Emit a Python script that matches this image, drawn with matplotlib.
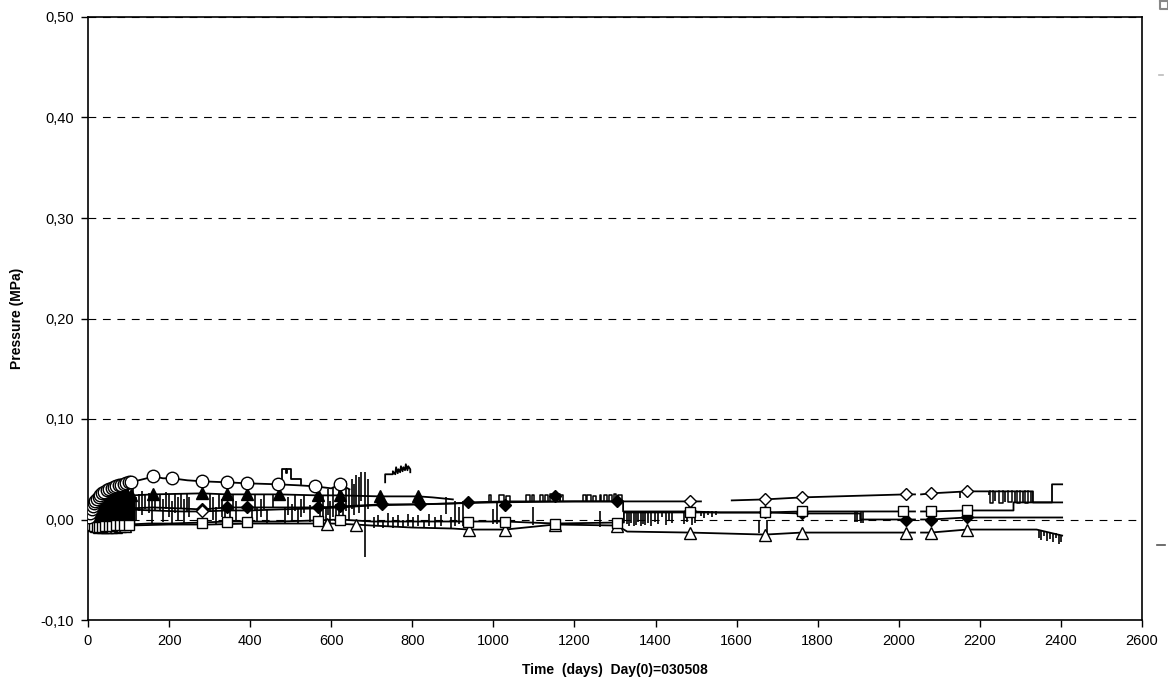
import numpy as np
import matplotlib
matplotlib.use("Agg")
import matplotlib.pyplot as plt
from matplotlib.lines import Line2D
from matplotlib.ticker import FuncFormatter, MultipleLocator

plt.rcParams['font.family'] = ['Liberation Sans', 'DejaVu Sans']
nan = np.nan

# open circles
circ_days = [0, 5, 10, 18, 28, 40, 52, 62, 72, 82, 92, 104, 125, 145, 160, 185, 207, 245, 281, 343,
             392, 469, 520, 560, 600, 622, 645]
circ_vals = [0.000, 0.006, 0.012, 0.018, 0.023, 0.027, 0.030, 0.032, 0.033, 0.034, 0.036, 0.037, 0.039, 0.041, 0.043, 0.041, 0.041, 0.039, 0.038, 0.037,
             0.036, 0.035, 0.034, 0.033, 0.031, 0.035, 0.030]
circ_mk_days = [3, 6, 9, 12, 15, 18, 22, 26, 30, 35, 40, 46, 52, 58, 64, 70, 76, 82, 88, 94,
                100, 106, 160, 207, 281, 343, 392, 469, 560, 622]
circ_mk_vals = [0.002, 0.006, 0.010, 0.013, 0.016, 0.018, 0.020, 0.022, 0.024, 0.026, 0.027, 0.029, 0.030, 0.031, 0.032, 0.033, 0.034, 0.034, 0.035, 0.036,
                0.037, 0.037, 0.043, 0.041, 0.038, 0.037, 0.036, 0.035, 0.033, 0.035]

# filled triangles
tri_days = [0, 10, 20, 35, 50, 70, 90, 110, 160, 281, 343, 392, 470, 567, 622, 720, 815, 850, 900]
tri_vals = [0.000, 0.008, 0.012, 0.016, 0.019, 0.021, 0.023, 0.024, 0.025, 0.026, 0.025, 0.025, 0.025, 0.024, 0.024, 0.023, 0.023, 0.022, 0.020]
tri_mk_days = [5, 10, 15, 20, 26, 32, 38, 45, 52, 60, 68, 76, 85, 95, 105, 160, 281, 343, 392, 470,
               567, 622, 720, 815]
tri_mk_vals = [0.004, 0.008, 0.010, 0.012, 0.014, 0.016, 0.017, 0.018, 0.019, 0.020, 0.021, 0.022, 0.023, 0.023, 0.024, 0.025, 0.026, 0.025, 0.025, 0.025,
               0.024, 0.024, 0.023, 0.023]

# filled diamonds
diaf_days = [0, 15, 30, 50, 70, 100, 160, 230, 281, 343, 392, 470, 567, 622, 725, 819, 900, 937, 1029, 1152,
             1305, 1320, 1320, 1400, 1485, 1560, 1670, 1761, 1850, 1905, 1905, 2018, 2040, 2048, 2055, 2079, 2168, 2250, 2403]
diaf_vals = [0.000, 0.004, 0.007, 0.009, 0.010, 0.011, 0.012, 0.011, 0.010, 0.012, 0.012, 0.012, 0.012, 0.013, 0.015, 0.015, 0.016, 0.017, 0.018, 0.018,
             0.018, 0.018, 0.008, 0.008, 0.008, 0.007, 0.007, 0.006, 0.006, 0.006, 0.000, 0.000, 0.000, nan, 0.000, 0.000, 0.002, 0.002, 0.002]
diaf_mk_days = [8, 15, 22, 30, 38, 46, 55, 64, 73, 82, 92, 102, 281, 343, 392, 567, 622, 725, 819, 937,
                1029, 1152, 1305, 1485, 1670, 1761, 2018, 2079, 2168]
diaf_mk_vals = [0.002, 0.004, 0.006, 0.007, 0.008, 0.009, 0.009, 0.010, 0.010, 0.010, 0.011, 0.011, 0.010, 0.012, 0.012, 0.012, 0.013, 0.015, 0.015, 0.017,
                0.014, 0.023, 0.018, 0.008, 0.007, 0.006, 0.000, 0.000, 0.002]

# open diamonds
diao_days = [0, 10, 25, 45, 70, 100, 160, 230, 281, 343, 400, 470, 560, 622, 700, 800, 900, 1000, 1200, 1320,
             1485, 1512, 1550, 1588, 1670, 1761, 2018, 2040, 2048, 2055, 2079, 2168, 2220, 2331, 2331, 2378, 2378, 2403]
diao_vals = [0.000, 0.004, 0.007, 0.009, 0.010, 0.010, 0.009, 0.008, 0.008, 0.009, 0.009, 0.010, 0.011, 0.012, 0.014, 0.015, 0.016, 0.017, 0.018, 0.018,
             0.018, 0.018, nan, 0.019, 0.020, 0.022, 0.025, 0.025, nan, 0.025, 0.026, 0.028, 0.028, 0.028, 0.017, 0.017, 0.035, 0.035]
diao_mk_days = [6, 14, 24, 34, 45, 57, 70, 84, 98, 281, 1485, 1670, 1761, 2018, 2079, 2168]
diao_mk_vals = [0.003, 0.005, 0.007, 0.008, 0.009, 0.010, 0.010, 0.010, 0.010, 0.008, 0.018, 0.020, 0.022, 0.025, 0.026, 0.028]

# open squares
sq_days = [0, 5, 12, 25, 40, 60, 80, 100, 150, 200, 281, 343, 400, 470, 560, 622, 700, 800, 900, 937,
           1029, 1152, 1305, 1322, 1322, 1485, 1670, 1761, 1890, 2011, 2040, 2048, 2055, 2079, 2168, 2283, 2283, 2403]
sq_vals = [0.000, -0.004, -0.006, -0.007, -0.006, -0.006, -0.005, -0.005, -0.004, -0.004, -0.003, -0.002, -0.002, -0.002, -0.001, 0.000, -0.002, -0.002, -0.002, -0.002,
           -0.002, -0.004, -0.003, -0.003, 0.007, 0.007, 0.007, 0.008, 0.008, 0.008, 0.008, nan, 0.008, 0.008, 0.009, 0.009, 0.017, 0.017]
sq_mk_days = [4, 9, 15, 21, 28, 35, 43, 51, 60, 70, 80, 90, 100, 281, 343, 392, 567, 622, 937, 1029,
              1152, 1305, 1485, 1670, 1761, 2011, 2079, 2168]
sq_mk_vals = [-0.002, -0.005, -0.006, -0.007, -0.007, -0.007, -0.006, -0.006, -0.006, -0.005, -0.005, -0.005, -0.005, -0.003, -0.002, -0.002, -0.001, 0.000, -0.002, -0.002,
              -0.004, -0.003, 0.007, 0.007, 0.008, 0.008, 0.008, 0.009]

# open triangles
trio_days = [0, 8, 20, 40, 70, 100, 200, 300, 400, 500, 600, 660, 700, 800, 900, 940, 1029, 1152, 1305, 1330,
             1485, 1670, 1761, 2018, 2040, 2048, 2055, 2079, 2168, 2340, 2403]
trio_vals = [0.000, -0.004, -0.006, -0.007, -0.007, -0.006, -0.005, -0.005, -0.004, -0.004, -0.004, -0.005, -0.006, -0.008, -0.009, -0.010, -0.010, -0.005, -0.006, -0.012,
             -0.013, -0.015, -0.013, -0.013, -0.013, nan, -0.013, -0.013, -0.010, -0.010, -0.016]
trio_mk_days = [6, 12, 19, 27, 36, 46, 57, 68, 80, 92, 589, 660, 940, 1029, 1152, 1305, 1485, 1670, 1761, 2018,
                2079, 2168]
trio_mk_vals = [-0.003, -0.005, -0.006, -0.007, -0.007, -0.007, -0.007, -0.007, -0.006, -0.006, -0.004, -0.005, -0.010, -0.010, -0.005, -0.006, -0.013, -0.015, -0.013, -0.013,
                -0.013, -0.010]

# short high excursions without markers
hi1_days = [478, 478, 488, 488, 492, 492, 500, 500, 525, 525]
hi1_vals = [0.036, 0.050, 0.050, 0.046, 0.046, 0.050, 0.050, 0.040, 0.040, 0.035]
hi2_days = [733, 733, 752, 752, 758, 760, 764, 766, 770, 772, 776, 778, 782, 784, 788, 790, 795, 795]
hi2_vals = [0.037, 0.045, 0.045, 0.048, 0.045, 0.052, 0.046, 0.050, 0.047, 0.053, 0.048, 0.052, 0.049, 0.055, 0.049, 0.053, 0.050, 0.047]

# dense readings of the first days (day, low, high)
early_days = [2, 5, 8, 11, 14, 17, 20, 23, 26, 29, 32, 35, 38, 41, 44, 47, 50, 53, 56, 59,
              62, 65, 68, 71, 74, 77, 80, 83, 86, 89, 92, 95, 98, 101, 104, 107, 110]
early_lo = [-0.004, -0.006, -0.007, -0.007, -0.008, -0.007, -0.008, -0.007, -0.008, -0.007, -0.008, -0.007, -0.008, -0.007, -0.008, -0.007, -0.008, -0.007, -0.008, -0.007,
            -0.008, -0.007, -0.008, -0.007, -0.008, -0.007, -0.008, -0.007, -0.006, -0.007, -0.006, -0.005, -0.006, -0.004, -0.005, -0.003, -0.004]
early_hi = [0.004, 0.008, 0.011, 0.014, 0.016, 0.018, 0.020, 0.021, 0.022, 0.024, 0.025, 0.026, 0.027, 0.027, 0.028, 0.029, 0.029, 0.030, 0.030, 0.031,
            0.031, 0.032, 0.032, 0.032, 0.033, 0.033, 0.033, 0.034, 0.033, 0.034, 0.034, 0.030, 0.028, 0.026, 0.024, 0.022, 0.020]

# single-reading spikes (day, low, high)
spk_days = [105, 112, 118, 126, 133, 141, 150, 158, 166, 178, 186, 193, 200, 207, 215, 222, 229, 236, 243, 250,
            300, 308, 316, 322, 330, 338, 350, 357, 365, 405, 411, 418, 426, 433, 441, 456, 486, 494, 502, 510,
            518, 526, 534, 548, 572, 580, 586, 592, 598, 605, 612, 620, 628, 636, 644, 650, 656, 662, 668, 674,
            683, 690, 705, 716, 728, 740, 752, 765, 778, 790, 802, 815, 828, 842, 856, 870, 882, 895, 905, 915,
            925, 1000, 1010, 1098, 1262, 1655, 1676,
            1330, 1335, 1340, 1346, 1352, 1357, 1363, 1368, 1375, 1382, 1390, 1398, 1405, 1415, 1425, 1432, 1440,
            1470, 1478, 1490, 1497, 1512, 1520, 1530, 1540, 1550, 1893, 1897, 1907, 1911,
            2150, 2222, 2238, 2262, 2286, 2306, 2325,
            2345, 2352, 2358, 2365, 2372, 2380, 2388, 2395, 2400]
spk_lo = [0.002, 0.005, 0.000, 0.008, 0.004, 0.010, 0.006, -0.004, 0.008, 0.008, -0.002, 0.010, 0.002, -0.004, 0.006, 0.000, 0.010, -0.003, 0.008, 0.002,
          0.008, 0.000, -0.004, 0.010, 0.002, -0.002, -0.004, 0.008, 0.000, -0.003, 0.008, -0.002, 0.002, 0.010, -0.004, 0.012, -0.004, 0.004, -0.002, 0.008,
          -0.004, 0.002, 0.006, -0.002, -0.006, 0.000, -0.008, 0.004, -0.004, 0.002, -0.006, 0.004, -0.002, 0.008, 0.000, 0.010, 0.004, 0.014, 0.006, 0.018,
          -0.037, 0.010, -0.008, -0.006, -0.008, -0.006, -0.008, -0.007, -0.008, -0.006, -0.008, -0.006, -0.008, -0.006, -0.008, -0.006, 0.005, -0.008, -0.006, -0.004,
          -0.006, -0.004, -0.004, -0.005, -0.007, -0.013, -0.017,
          -0.004, -0.006, -0.003, -0.006, -0.005, -0.002, -0.006, -0.004, -0.005, -0.003, -0.006, -0.002, -0.004, 0.002, -0.005, -0.001, -0.003,
          -0.004, -0.002, -0.005, -0.003, 0.003, 0.001, 0.004, 0.002, 0.004, -0.002, -0.002, -0.003, -0.003,
          0.021, 0.024, 0.018, 0.017, 0.017, 0.017, 0.017,
          -0.018, -0.020, -0.016, -0.021, -0.019, -0.022, -0.018, -0.024, -0.022]
spk_hi = [0.024, 0.030, 0.022, 0.025, 0.028, 0.025, 0.026, 0.020, 0.025, 0.025, 0.020, 0.027, 0.025, 0.018, 0.025, 0.022, 0.025, 0.020, 0.026, 0.022,
          0.025, 0.022, 0.012, 0.025, 0.020, 0.012, 0.010, 0.025, 0.018, 0.010, 0.025, 0.012, 0.020, 0.025, 0.010, 0.025, 0.012, 0.022, 0.015, 0.024,
          0.010, 0.020, 0.024, 0.014, 0.020, 0.024, 0.012, 0.030, 0.018, 0.032, 0.015, 0.035, 0.025, 0.038, 0.030, 0.040, 0.035, 0.044, 0.042, 0.047,
          0.047, 0.040, 0.002, 0.004, 0.000, 0.006, 0.002, 0.004, 0.000, 0.005, 0.002, 0.004, 0.000, 0.005, 0.002, 0.004, 0.022, 0.002, 0.018, 0.012,
          0.018, 0.010, 0.017, 0.012, 0.008, 0.000, 0.000,
          0.008, 0.008, 0.008, 0.008, 0.008, 0.008, 0.008, 0.008, 0.008, 0.008, 0.008, 0.008, 0.008, 0.008, 0.008, 0.008, 0.008,
          0.008, 0.008, 0.008, 0.008, 0.008, 0.008, 0.008, 0.008, 0.008, 0.008, 0.008, 0.008, 0.008,
          0.027, 0.028, 0.028, 0.028, 0.028, 0.028, 0.028,
          -0.010, -0.011, -0.011, -0.012, -0.012, -0.013, -0.013, -0.014, -0.016]

# square-wave excursions (start, end, level before, level during)
pls_start = [990, 1015, 1032, 1080, 1095, 1115, 1128, 1140, 1165, 1222, 1232, 1245, 1262, 1272, 1284, 1297, 1308,
             2226, 2248, 2270, 2292, 2312]
pls_end = [993, 1025, 1042, 1090, 1100, 1122, 1135, 1165, 1172, 1228, 1240, 1252, 1266, 1280, 1292, 1303, 1318,
           2232, 2256, 2280, 2300, 2318]
pls_base = [0.018, 0.018, 0.018, 0.018, 0.018, 0.018, 0.018, 0.018, 0.018, 0.018, 0.018, 0.018, 0.018, 0.018, 0.018, 0.018, 0.018,
            0.028, 0.028, 0.028, 0.028, 0.028]
pls_level = [0.024, 0.024, 0.023, 0.024, 0.024, 0.024, 0.024, 0.025, 0.024, 0.024, 0.024, 0.023, 0.024, 0.024, 0.024, 0.025, 0.024,
             0.016, 0.016, 0.017, 0.016, 0.016]

fig = plt.figure(figsize=(11.68, 6.9), dpi=100)
ax = fig.add_axes([88/1168, 70/690, 1054/1168, 603/690])

lw = 1.3
for d, v in [(circ_days, circ_vals), (tri_days, tri_vals), (diaf_days, diaf_vals), (diao_days, diao_vals),
             (sq_days, sq_vals), (trio_days, trio_vals), (hi1_days, hi1_vals), (hi2_days, hi2_vals)]:
    ax.plot(d, v, color='black', lw=lw, zorder=3)

ax.vlines(spk_days, spk_lo, spk_hi, color='black', lw=1.2, zorder=3)
for s, e, b, p in zip(pls_start, pls_end, pls_base, pls_level):
    ax.plot([s, s, e, e], [b, p, p, b], color='black', lw=1.1, zorder=3)

mk = dict(linestyle='none', markeredgecolor='black', markeredgewidth=1.0)
ax.plot(tri_mk_days, tri_mk_vals, marker='^', markersize=8, markerfacecolor='black', zorder=4, **mk)
ax.plot(diaf_mk_days, diaf_mk_vals, marker='D', markersize=6.5, markerfacecolor='black', zorder=4, **mk)
ax.plot(diao_mk_days, diao_mk_vals, marker='D', markersize=6.5, markerfacecolor='white', zorder=4, **mk)
ax.plot(trio_mk_days, trio_mk_vals, marker='^', markersize=8.5, markerfacecolor='white', zorder=4, **mk)

# the first days are one dark mass of overlapping readings
ax.vlines(early_days, early_lo, early_hi, color='black', lw=2.4, zorder=4.5)

ax.plot(sq_mk_days, sq_mk_vals, marker='s', markersize=7.5, markerfacecolor='white', zorder=5, **mk)
ax.plot(circ_mk_days, circ_mk_vals, marker='o', markersize=9, markerfacecolor='white', zorder=5, **mk)

ax.set_xlim(0, 2600)
ax.set_ylim(-0.10, 0.50)
ax.xaxis.set_major_locator(MultipleLocator(200))
ax.yaxis.set_major_locator(MultipleLocator(0.10))
ax.yaxis.set_major_formatter(FuncFormatter(lambda v, p: f"{v:.2f}".replace('.', ',')))
ax.grid(axis='y', color='black', lw=0.8, linestyle=(0, (7, 6)))
ax.set_axisbelow(True)
ax.tick_params(direction='out', length=5, width=1, labelsize=10.5, colors='black', pad=5)
for sp in ax.spines.values():
    sp.set_linewidth(1.2)
    sp.set_color('black')

ax.set_xlabel("Time  (days)  Day(0)=030508", fontsize=10, fontweight='bold', labelpad=11)
ax.set_ylabel("Pressure (MPa)", fontsize=10, fontweight='bold', labelpad=12)

# clipped legend remnants at the right edge
fig.add_artist(Line2D([1160/1168, 1168/1168, 1168/1168, 1160/1168, 1160/1168],
                      [1 - 1/690, 1 - 1/690, 1 - 9/690, 1 - 9/690, 1 - 1/690],
                      transform=fig.transFigure, color='#888888', lw=1.5))
fig.add_artist(Line2D([1159/1168, 1163/1168], [1 - 75/690, 1 - 75/690],
                      transform=fig.transFigure, color='#bbbbbb', lw=1.2))
fig.add_artist(Line2D([1157/1168, 1165/1168], [1 - 545/690, 1 - 545/690],
                      transform=fig.transFigure, color='#555555', lw=1.2))

fig.savefig("out.png", dpi=100)
